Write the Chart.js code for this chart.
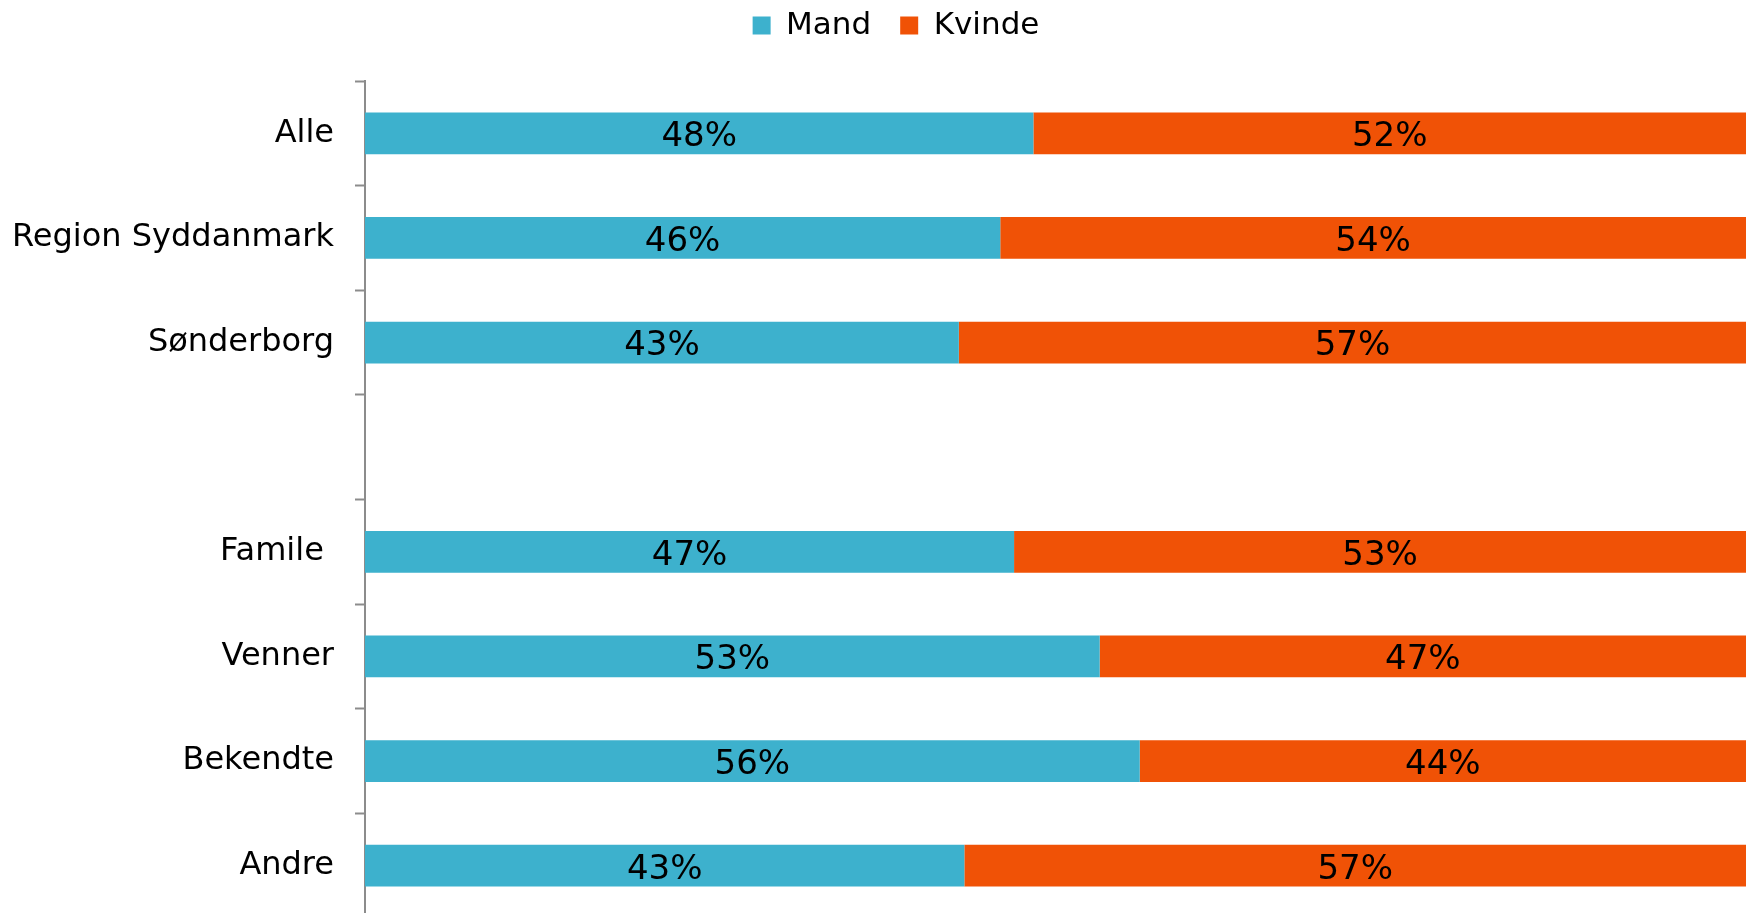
<!DOCTYPE html>
<html>
<head>
<meta charset="utf-8">
<script src="https://cdn.jsdelivr.net/npm/chart.js@4/dist/chart.umd.min.js"></script>
<style>
  html, body { margin: 0; padding: 0; background: #fff; overflow: hidden; }
  #wrap { width: 1746px; height: 918px; position: relative; }
</style>
</head>
<body>
<div id="wrap"><canvas id="c"></canvas></div>
<script>
const categories = ['Alle', 'Region Syddanmark', 'Sønderborg', '', 'Famile ', 'Venner', 'Bekendte', 'Andre'];
const mandValues = [48.4, 46.0, 43.0, null, 47.0, 53.2, 56.1, 43.4];
const kvindeValues = [51.6, 54.0, 57.0, null, 53.0, 46.8, 43.9, 56.6];
const seriesNames = ['Mand', 'Kvinde'];
const seriesColors = ['#3DB1CD', '#F05206'];

const FONT = '"DejaVu Sans", Verdana, sans-serif';

const legendMargin = {
  id: 'legendMargin',
  beforeInit(chart) {
    const orig = chart.legend.fit;
    chart.legend.fit = function () {
      orig.bind(chart.legend)();
      this.height += 30;
    };
  },
  afterLayout(chart) {
    chart.legend.left += 23;
    chart.legend.right += 23;
  }
};

const segLabels = {
  id: 'segLabels',
  afterDatasetsDraw(chart) {
    const ctx = chart.ctx;
    ctx.save();
    ctx.font = '34px ' + FONT;
    ctx.fillStyle = '#000';
    ctx.textAlign = 'center';
    ctx.textBaseline = 'middle';
    chart.data.datasets.forEach((ds, i) => {
      const meta = chart.getDatasetMeta(i);
      meta.data.forEach((bar, j) => {
        const v = ds.data[j];
        if (v == null) return;
        const x = (bar.x + bar.base) / 2;
        ctx.fillText(Math.round(v) + '%', x, bar.y + 4);
      });
    });
    ctx.restore();
  }
};

new Chart(document.getElementById('c'), {
  type: 'bar',
  data: {
    labels: categories,
    datasets: [
      { label: seriesNames[0], data: mandValues, backgroundColor: seriesColors[0], borderWidth: 0, barPercentage: 0.4, categoryPercentage: 1.0 },
      { label: seriesNames[1], data: kvindeValues, backgroundColor: seriesColors[1], borderWidth: 0, barPercentage: 0.4, categoryPercentage: 1.0 }
    ]
  },
  options: {
    indexAxis: 'y',
    responsive: true,
    maintainAspectRatio: false,
    animation: false,
    layout: { padding: { top: -19, left: 0, right: 0, bottom: 0 } },
    plugins: {
      legend: {
        display: true,
        position: 'top',
        labels: {
          boxWidth: 18,
          boxHeight: 18,
          padding: 29,
          color: '#000',
          font: { family: FONT, size: 31 }
        }
      },
      tooltip: { enabled: false }
    },
    scales: {
      x: {
        stacked: true,
        display: false,
        min: 0,
        max: 100
      },
      y: {
        stacked: true,
        offset: true,
        grid: {
          offset: true,
          drawOnChartArea: false,
          drawTicks: true,
          tickLength: 10,
          tickColor: '#8c8c8c',
          tickWidth: 2
        },
        border: { display: true, color: '#8c8c8c', width: 2 },
        ticks: {
          color: '#000',
          padding: 21,
          font: { family: FONT, size: 32 }
        },
        afterFit(scale) {
          scale.width = 365;
          scale.paddingTop = 0;
          scale.paddingBottom = 0;
        }
      }
    }
  },
  plugins: [legendMargin, segLabels]
});
</script>
</body>
</html>
